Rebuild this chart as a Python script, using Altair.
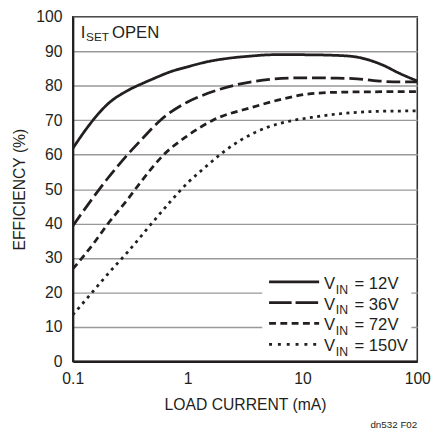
import altair as alt
import pandas as pd

# ---- data ----
x12 = [0.1, 0.13, 0.15, 0.2, 0.3, 0.4, 0.5, 0.7, 1, 1.5, 2.3, 3.5, 5.4, 10, 20, 30, 50, 70, 100]
y12 = [61.8, 67.3, 70, 74.6, 78.6, 80.6, 82, 84, 85.5, 87, 88, 88.6, 89, 89, 88.8, 88.3, 86, 83.6, 81.4]

x36 = [0.1, 0.15, 0.2, 0.3, 0.4, 0.58, 1, 1.5, 2.6, 5.4, 10, 20, 30, 50, 70, 100]
y36 = [39.3, 47.5, 53, 60, 64.5, 70, 75.3, 77.8, 80.2, 81.9, 82.3, 82.2, 82, 81.3, 81.1, 81.1]

x72 = [0.1, 0.15, 0.2, 0.3, 0.39, 0.62, 1, 1.66, 3.7, 7, 12.7, 27.8, 100]
y72 = [26.8, 34, 39.7, 47, 52, 60, 65.5, 70, 73.8, 76.3, 77.8, 78.2, 78.3]

x150 = [0.1, 0.15, 0.2, 0.3, 0.5, 0.7, 1, 1.5, 2, 3, 5, 8.5, 12, 20, 30, 50, 100]
y150 = [13.5, 20.3, 25.2, 31.7, 40.5, 46.2, 51.8, 57, 60.5, 64.5, 68, 70, 70.8, 71.8, 72.3, 72.6, 72.7]

series_names = ["12V", "36V", "72V", "150V"]
x_ticks = [0.1, 1, 10, 100]
y_ticks = [0, 10, 20, 30, 40, 50, 60, 70, 80, 90, 100]

FONT = "Liberation Sans, Arial, sans-serif"
INK = "#231f20"
W, H = 351, 351

rows = []
for name, xs, ys in zip(series_names, [x12, x36, x72, x150], [y12, y36, y72, y150]):
    for xv, yv in zip(xs, ys):
        rows.append({"series": name, "x": xv, "y": yv})
df = pd.DataFrame(rows)

curve_dash = [[1, 0], [14, 5], [7, 4.5], [3, 4.5]]
legend_dash = [[1, 0], [23, 4], [7, 4.5], [3, 6]]

curves = alt.Chart(df).mark_line(
    color=INK, strokeWidth=2.8, interpolate="monotone", clip=True
).encode(
    x=alt.X("x:Q",
            scale=alt.Scale(type="log", domain=[0.1, 100], nice=False),
            axis=alt.Axis(values=x_ticks, format="~g", title="LOAD CURRENT (mA)",
                          grid=False, ticks=False, labelPadding=10, titlePadding=10,
                          labelFlush=False)),
    y=alt.Y("y:Q",
            scale=alt.Scale(domain=[0, 100], nice=False),
            axis=alt.Axis(values=y_ticks, title="EFFICIENCY (%)", grid=True,
                          ticks=False, labelPadding=11, titlePadding=8)),
    strokeDash=alt.StrokeDash("series:N",
                              scale=alt.Scale(domain=series_names, range=curve_dash),
                              legend=None),
    detail="series:N",
)

one = pd.DataFrame({"k": [0]})

layers = [curves]

# legend background
layers.append(alt.Chart(one).mark_rect(fill="white").encode(
    x=alt.value(193), x2=alt.value(345), y=alt.value(257), y2=alt.value(344)))

row_gap = 21.2
for i, name in enumerate(series_names):
    ly = 270 + i * row_gap
    layers.append(alt.Chart(one).mark_rule(
        color=INK, strokeWidth=2.8, strokeDash=legend_dash[i]).encode(
        x=alt.value(200), x2=alt.value(251), y=alt.value(ly)))
    base_y = ly + 7
    layers.append(alt.Chart(one).mark_text(
        text="V", font=FONT, fontSize=17, color=INK, align="left", baseline="alphabetic").encode(
        x=alt.value(256), y=alt.value(base_y)))
    layers.append(alt.Chart(one).mark_text(
        text="IN", font=FONT, fontSize=12.5, color=INK, align="left", baseline="alphabetic").encode(
        x=alt.value(268), y=alt.value(base_y + 5)))
    layers.append(alt.Chart(one).mark_text(
        text="= " + name, font=FONT, fontSize=17, color=INK, align="left", baseline="alphabetic").encode(
        x=alt.value(287), y=alt.value(base_y)))

# inner title  I_SET OPEN
layers.append(alt.Chart(one).mark_text(
    text="I", font=FONT, fontSize=17, color=INK, align="left", baseline="alphabetic").encode(
    x=alt.value(8), y=alt.value(22)))
layers.append(alt.Chart(one).mark_text(
    text="SET", font=FONT, fontSize=12, color=INK, align="left", baseline="alphabetic").encode(
    x=alt.value(13.5), y=alt.value(24.5)))
layers.append(alt.Chart(one).mark_text(
    text="OPEN", font=FONT, fontSize=17, color=INK, align="left", baseline="alphabetic").encode(
    x=alt.value(40), y=alt.value(22)))

# figure id
layers.append(alt.Chart(one).mark_text(
    text="dn532 F02", font=FONT, fontSize=10, color=INK, align="right", baseline="middle").encode(
    x=alt.value(351), y=alt.value(416)))

chart = alt.layer(*layers).properties(
    width=W, height=H,
    autosize=alt.AutoSizeParams(type="none"),
    padding={"left": 66, "top": 5, "right": 15, "bottom": 70},
).configure_view(
    stroke="#333333", strokeWidth=1.6
).configure_axis(
    labelFont=FONT, titleFont=FONT, labelFontSize=16, titleFontSize=16,
    labelColor=INK, titleColor=INK, titleFontWeight="normal",
    domainColor=INK, domainWidth=2.2, gridColor="#999999", gridWidth=1.4,
)

chart.save("out.html", embed_options={"renderer": "svg", "actions": False})
